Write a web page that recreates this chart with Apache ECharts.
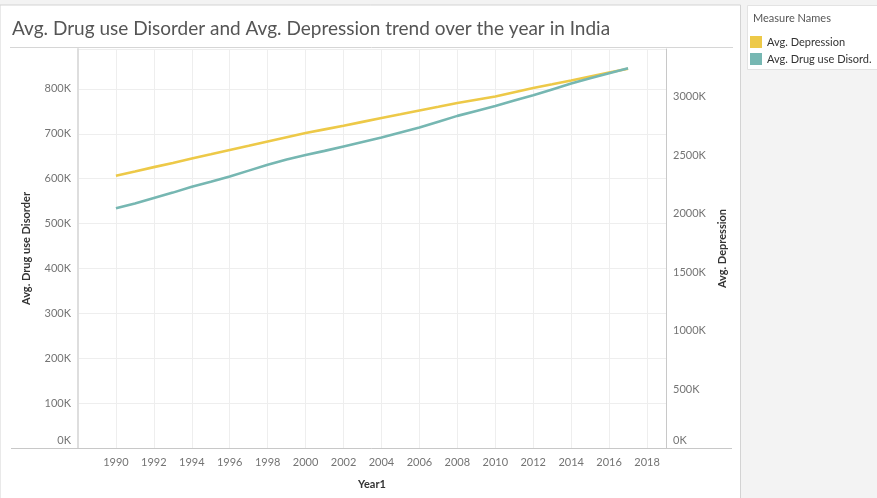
<!DOCTYPE html>
<html>
<head>
<meta charset="utf-8">
<script src="https://cdn.jsdelivr.net/npm/echarts@6/dist/echarts.min.js"></script>
<style>
  html, body { margin: 0; padding: 0; background: #f3f3f3; }
  #chart { width: 877px; height: 498px; }
</style>
</head>
<body>
<div id="chart"></div>
<script>
// Yearly averages for India, 1990-2017
const years = [1990, 1991, 1992, 1993, 1994, 1995, 1996, 1997, 1998, 1999,
               2000, 2001, 2002, 2003, 2004, 2005, 2006, 2007, 2008, 2009,
               2010, 2011, 2012, 2013, 2014, 2015, 2016, 2017];

// Avg. Drug use Disorder (left axis)
const drugUse = [534000, 545000, 557000, 569000, 582000, 593000, 605000, 618000, 631000, 643000,
                 653000, 662000, 672000, 682000, 692000, 703000, 714000, 727000, 740000, 751000,
                 762000, 774000, 786000, 799000, 812000, 824000, 835000, 846000];

// Avg. Depression (right axis)
const depression = [2324000, 2360000, 2397000, 2433000, 2470000, 2506000, 2543000, 2579000, 2616000, 2652000,
                    2688000, 2719000, 2750000, 2783000, 2816000, 2848000, 2881000, 2912000, 2944000, 2972000,
                    3000000, 3036000, 3072000, 3104000, 3137000, 3171000, 3205000, 3236000];

// Tick labels
const yearTicks = [1990, 1992, 1994, 1996, 1998, 2000, 2002, 2004, 2006, 2008, 2010, 2012, 2014, 2016, 2018];
const leftTicks = [0, 100000, 200000, 300000, 400000, 500000, 600000, 700000, 800000];
const rightTicks = [0, 500000, 1000000, 1500000, 2000000, 2500000, 3000000];

const FONT = 'Lato';
const LABEL_COLOR = '#747474';
const TITLE_COLOR = '#333333';

const kFmt = (ticks) => (v) => {
  if (ticks.indexOf(v) < 0) return '';
  if (v === 0) return '{z|0K}';
  return (v / 1000) + 'K';
};
const zeroRich = { z: { fontSize: 11, fontFamily: FONT, color: LABEL_COLOR, padding: [0, 0, 16, 0] } };

const chart = echarts.init(document.getElementById('chart'), null, { renderer: 'canvas' });

chart.setOption({
  backgroundColor: '#f3f3f3',
  animation: false,
  title: {
    text: 'Avg. Drug use Disorder and Avg. Depression trend over the year in India',
    left: 12,
    top: 19,
    padding: 0,
    textStyle: { fontFamily: FONT, fontSize: 19, fontWeight: 'normal', color: '#555555' }
  },
  legend: {
    orient: 'vertical',
    left: 750,
    top: 36,
    itemWidth: 12,
    itemHeight: 12,
    itemGap: 5,
    icon: 'rect',
    padding: 0,
    data: ['Avg. Depression', 'Avg. Drug use Disorder'],
    formatter: (name) => name === 'Avg. Drug use Disorder' ? 'Avg. Drug use Disord.' : name,
    textStyle: { fontFamily: FONT, fontSize: 11, color: '#333333' }
  },
  graphic: [
    // sheet panel and its frame
    { type: 'rect', z: -10, shape: { x: 0, y: 5, width: 740.5, height: 500 },
      style: { fill: '#ffffff', stroke: '#d3d3d3', lineWidth: 1 } },
    // legend card
    { type: 'rect', z: -10, shape: { x: 747.5, y: 5.5, width: 135, height: 64 },
      style: { fill: '#ffffff', stroke: '#e3e3e3', lineWidth: 1 } },
    { type: 'text', left: 753, top: 13,
      style: { text: 'Measure Names', fontFamily: FONT, fontSize: 11, fill: '#555555' } },
    // rule under the title
    { type: 'line', z: 1, shape: { x1: 10, y1: 47.5, x2: 733, y2: 47.5 },
      style: { stroke: '#d6d6d6', lineWidth: 1 } },
    // baseline under the pane
    { type: 'line', z: 5, shape: { x1: 11, y1: 448.5, x2: 732, y2: 448.5 },
      style: { stroke: '#c8c8c8', lineWidth: 1 } }
  ],
  grid: { left: 78, right: 211, top: 49, bottom: 50, containLabel: false },
  xAxis: {
    type: 'value',
    min: 1988,
    max: 2019,
    interval: 2,
    name: 'Year1',
    nameLocation: 'middle',
    nameGap: 31,
    nameTextStyle: { fontFamily: FONT, fontSize: 11, fontWeight: 'bold', color: TITLE_COLOR },
    axisLine: { show: false },
    axisTick: { show: false },
    axisLabel: {
      fontFamily: FONT, fontSize: 11, color: LABEL_COLOR, margin: 9,
      formatter: (v) => yearTicks.indexOf(v) >= 0 ? String(v) : ''
    },
    splitLine: { show: true, lineStyle: { color: '#eeeeee', width: 1 } }
  },
  yAxis: [
    {
      type: 'value',
      position: 'left',
      min: 0,
      max: 889000,
      interval: 100000,
      name: 'Avg. Drug use Disorder',
      nameLocation: 'middle',
      nameRotate: 90,
      nameGap: 46,
      nameTextStyle: { fontFamily: FONT, fontSize: 11, fontWeight: 'bold', color: TITLE_COLOR },
      axisLine: { show: true, lineStyle: { color: '#dedede', width: 2 } },
      axisTick: { show: false },
      axisLabel: { fontFamily: FONT, fontSize: 11, color: LABEL_COLOR, margin: 7,
                   formatter: kFmt(leftTicks), rich: zeroRich },
      splitLine: { show: true, lineStyle: { color: '#eeeeee', width: 1 } }
    },
    {
      type: 'value',
      position: 'right',
      min: 0,
      max: 3405000,
      interval: 500000,
      name: 'Avg. Depression',
      nameLocation: 'middle',
      nameRotate: 90,
      nameGap: 50,
      nameTextStyle: { fontFamily: FONT, fontSize: 11, fontWeight: 'bold', color: TITLE_COLOR },
      axisLine: { show: true, lineStyle: { color: '#c8c8c8', width: 1 } },
      axisTick: { show: false },
      axisLabel: { fontFamily: FONT, fontSize: 11, color: LABEL_COLOR, margin: 7,
                   formatter: kFmt(rightTicks), rich: zeroRich },
      splitLine: { show: false }
    }
  ],
  series: [
    {
      name: 'Avg. Depression',
      type: 'line',
      yAxisIndex: 1,
      showSymbol: false,
      symbol: 'none',
      color: '#EDC948',
      lineStyle: { width: 2.6, color: '#EDC948' },
      z: 3,
      data: years.map((y, i) => [y, depression[i]])
    },
    {
      name: 'Avg. Drug use Disorder',
      type: 'line',
      yAxisIndex: 0,
      showSymbol: false,
      symbol: 'none',
      color: '#76B7B2',
      lineStyle: { width: 2.6, color: '#76B7B2' },
      z: 4,
      data: years.map((y, i) => [y, drugUse[i]])
    }
  ]
});
</script>
</body>
</html>
